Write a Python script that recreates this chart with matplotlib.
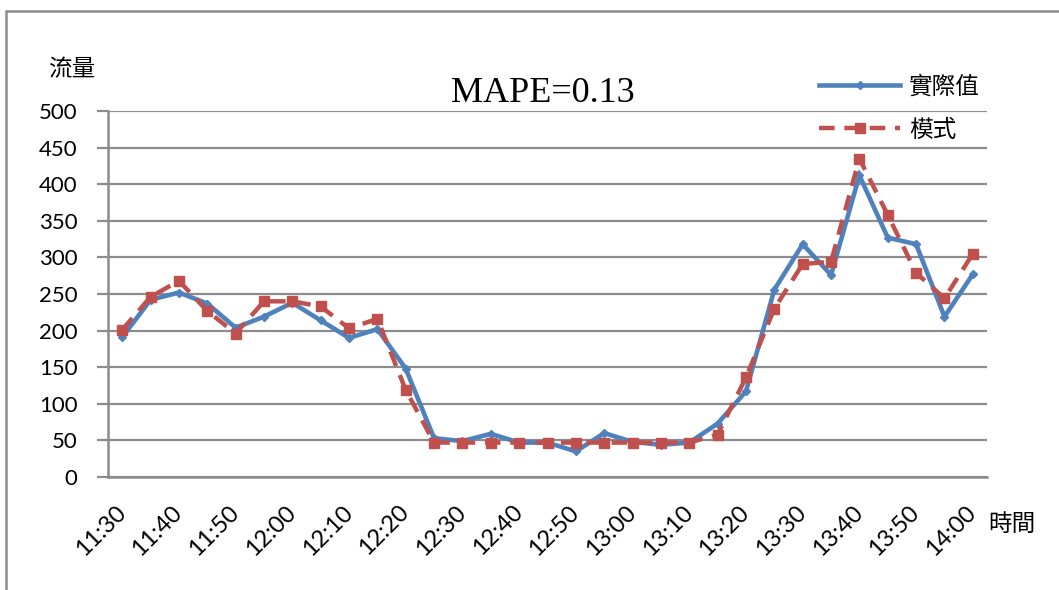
import numpy as np
import matplotlib.pyplot as plt
from matplotlib.patches import Rectangle

plt.rcParams['font.family'] = ['Lato', 'Noto Sans CJK TC', 'DejaVu Sans']

# 11:30 - 14:00, every 5 minutes
times = ['11:30', '11:35', '11:40', '11:45', '11:50', '11:55', '12:00', '12:05',
         '12:10', '12:15', '12:20', '12:25', '12:30', '12:35', '12:40', '12:45',
         '12:50', '12:55', '13:00', '13:05', '13:10', '13:15', '13:20', '13:25',
         '13:30', '13:35', '13:40', '13:45', '13:50', '13:55', '14:00']
actual = [191, 242, 252, 237, 204, 219, 238, 214, 190, 202, 148, 53, 49, 59, 47,
          47, 35, 60, 48, 44, 47, 73, 117, 256, 318, 276, 412, 327, 318, 219, 277]
model = [201, 246, 268, 227, 196, 240, 240, 233, 203, 216, 119, 47, 47, 47, 47,
         47, 47, 47, 47, 47, 47, 58, 136, 230, 291, 294, 435, 358, 279, 244, 305]
mape = 0.13

fig = plt.figure(figsize=(10.59, 5.90), dpi=100)
ax = fig.add_axes([108 / 1059, 1 - 477 / 590, (987 - 108) / 1059, (477 - 111) / 590])

x = np.arange(len(times))
ax.plot(x, actual, color='#4F81BD', lw=3.3, marker='D', ms=4, label='實際值',
        solid_joinstyle='miter', zorder=3)
ax.plot(x, model, color='#C0504D', lw=3.2, ls=(0, (3.5, 2.2)), marker='s', ms=7,
        label='模式', zorder=4)

ax.set_xlim(-0.5, len(times) - 0.5)
ax.set_ylim(0, 500)
ax.set_yticks(np.arange(0, 501, 50))
ax.grid(axis='y', color='#8c8c8c', lw=1.6)
ax.set_axisbelow(True)

ax.set_xticks(x[::2])
ax.set_xticklabels(times[::2], rotation=45, ha='right', va='center',
                   rotation_mode='anchor')
ax.tick_params(axis='x', length=0, pad=23, labelsize=17)
ax.tick_params(axis='y', length=8, width=1.6, color='#8c8c8c', pad=14, labelsize=16)

for side in ['top', 'right']:
    ax.spines[side].set_visible(False)
for side in ['left', 'bottom']:
    ax.spines[side].set_color('#8c8c8c')
    ax.spines[side].set_linewidth(1.8)

cjk = ['Noto Sans CJK TC', 'DejaVu Sans']
fig.text(48 / 1059, 1 - 70 / 590, '流量', family=cjk, fontsize=17, va='center')
fig.text(988 / 1059, 1 - 524 / 590, '時間', family=cjk, fontsize=17, va='center')
fig.text(543 / 1059, 1 - 93 / 590, 'MAPE=%.2f' % mape, family='Liberation Serif',
         fontsize=26, ha='center', va='center')

leg = ax.legend(loc='upper left', bbox_to_anchor=(810 / 1059, 1 - 66 / 590),
                bbox_transform=fig.transFigure, frameon=False, handlelength=3.4,
                handletextpad=0.4, labelspacing=0.85, borderaxespad=0,
                prop={'family': cjk, 'size': 17})

# outer chart frame
fig.patches.append(Rectangle((6 / 1059, -0.1), 1.2, 1 - 11 / 590 + 0.1,
                             transform=fig.transFigure, fill=False,
                             edgecolor='#8c8c8c', lw=1.8))

plt.savefig('out.png')
